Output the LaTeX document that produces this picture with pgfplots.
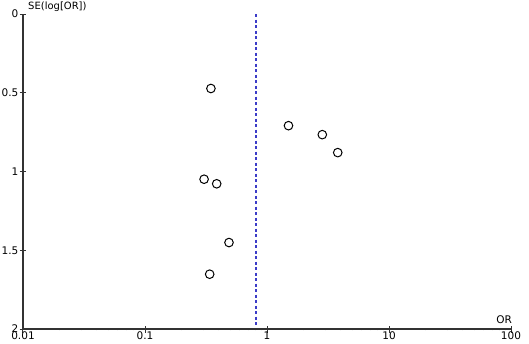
\documentclass[border=0pt]{standalone}
\usepackage{pgfplots}
\pgfplotsset{compat=1.18}
\usepackage{fontspec}
\setmainfont{DejaVu Sans}
\definecolor{refblue}{RGB}{60,60,200}
\begin{document}
\begin{tikzpicture}[x=1pt,y=1pt]
\useasboundingbox (0,0) rectangle (529,343);
\begin{axis}[
  at={(23pt,14pt)}, anchor=south west,
  scale only axis, width=488pt, height=315pt,
  xmode=log, xmin=0.01, xmax=100,
  ymin=0, ymax=2, y dir=reverse,
  axis lines*=left,
  axis line style={line width=1.1pt, black!80},
  xtick={0.01,0.1,1,10,100},
  xticklabels={0.01,0.1,1,10,100},
  ytick={0,0.5,1,1.5,2},
  yticklabels={0,0.5,1,1.5,2},
  minor tick num=0,
  log ticks with fixed point,
  tick align=center,
  major tick length=7pt,
  tick style={line width=1pt, black!80},
  tick label style={font=\fontsize{10.5}{11}\selectfont, inner sep=0pt},
  xticklabel style={yshift=1pt},
  yticklabel style={xshift=-1pt},
  clip=false,
]
\addplot[refblue, line width=1.4pt, dash pattern=on 3pt off 2.5pt] coordinates {(0.81,0) (0.81,1.975)};
\addplot[only marks, mark=o, mark size=4.3pt, mark options={line width=1pt, black}] coordinates {
(0.347,0.473)
(1.50,0.709)
(2.84,0.766)
(3.80,0.880)
(0.305,1.049)
(0.387,1.078)
(0.488,1.451)
(0.339,1.652)
};
\node[anchor=south west, inner sep=0pt, font=\fontsize{10}{11}\selectfont] at ([xshift=5pt,yshift=2pt]rel axis cs:0,1) {SE(log[OR])};
\node[anchor=south east, inner sep=0pt, font=\fontsize{10.5}{11}\selectfont] at ([xshift=1pt,yshift=5pt]rel axis cs:1,0) {OR};
\end{axis}
\end{tikzpicture}
\end{document}
